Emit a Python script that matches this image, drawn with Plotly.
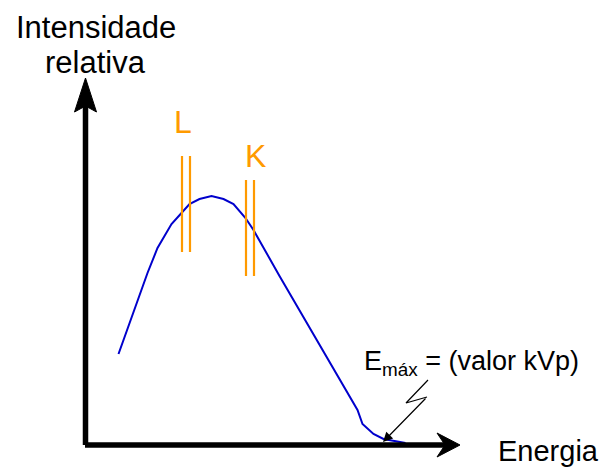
import plotly.graph_objects as go

# ---- data (energy / relative intensity, arbitrary units) ----
energy = [33, 62, 72, 80, 86, 96, 104, 114, 126, 138, 148, 160, 168, 194, 244, 272, 277, 288, 298, 320]
intensity = [91, 172, 197, 210, 221, 232, 241, 246, 249, 246, 241, 227, 215, 169, 83, 35, 21, 11, 6, 2]

# characteristic edges (pairs of lines): energy positions and vertical extent
edge_names = ["L", "K"]
edge_energies = [[96.5, 104.5], [160.5, 168.5]]
edge_spans = [[193, 289], [169, 265]]
edge_label_pos = [[97, 323], [169.5, 289]]

# pointer (zig-zag) to the maximum energy
zig_e = [342.5, 320.5, 341.5]
zig_i = [65, 42, 48]
emax_point = [297.5, 3]

FONT = "Liberation Sans, Arial, sans-serif"
BLUE = "#0000cc"
ORANGE = "#ff9a00"

fig = go.Figure()

fig.add_trace(go.Scatter(x=energy, y=intensity, mode="lines",
                         line=dict(color=BLUE, width=2), hoverinfo="skip"))

for xs, span in zip(edge_energies, edge_spans):
    for xv in xs:
        fig.add_trace(go.Scatter(x=[xv, xv], y=span, mode="lines",
                                 line=dict(color=ORANGE, width=2.2), hoverinfo="skip"))

fig.add_trace(go.Scatter(x=zig_e, y=zig_i, mode="lines",
                         line=dict(color="black", width=1.2), hoverinfo="skip"))

# axes as thick arrows
shapes = [
    dict(type="line", x0=0, y0=0, x1=0, y1=339, line=dict(color="black", width=5.5)),
    dict(type="path", path="M 0,367 L 11,333 L 0,339 L -11,333 Z",
         fillcolor="black", line=dict(color="black", width=1)),
    dict(type="line", x0=-0.5, y0=0, x1=361.5, y1=0, line=dict(color="black", width=5.5)),
    dict(type="path", path="M 374.5,0 L 351.5,12 L 359.5,0 L 351.5,-12 Z",
         fillcolor="black", line=dict(color="black", width=1)),
]

annotations = [
    dict(x=10.5, y=418, text="Intensidade", showarrow=False,
         font=dict(family=FONT, size=31, color="black")),
    dict(x=9.5, y=383, text="relativa", showarrow=False,
         font=dict(family=FONT, size=31, color="black")),
    dict(x=462.5, y=-6, text="Energia", showarrow=False,
         font=dict(family=FONT, size=29, color="black")),
    dict(x=276, y=82, xanchor="left", text="E<sub>máx</sub> = (valor kVp)", showarrow=False,
         font=dict(family=FONT, size=27, color="black")),
    dict(x=emax_point[0], y=emax_point[1], ax=zig_e[2], ay=zig_i[2],
         axref="x", ayref="y", xref="x", yref="y", text="", showarrow=True,
         arrowhead=2, arrowsize=1.6, arrowwidth=1.2, arrowcolor="black"),
]
for name, pos in zip(edge_names, edge_label_pos):
    annotations.append(dict(x=pos[0], y=pos[1], text=name, showarrow=False,
                            font=dict(family=FONT, size=32, color=ORANGE)))

# page body adds an 8px offset, compensated in the axis ranges
fig.update_layout(
    width=608, height=468,
    margin=dict(l=0, r=0, t=0, b=0),
    paper_bgcolor="white", plot_bgcolor="white",
    showlegend=False,
    xaxis=dict(range=[-77.5, 530.5], visible=False, fixedrange=True),
    yaxis=dict(range=[-31, 437], visible=False, fixedrange=True),
    shapes=shapes,
    annotations=annotations,
)

fig.write_html("out.html")
